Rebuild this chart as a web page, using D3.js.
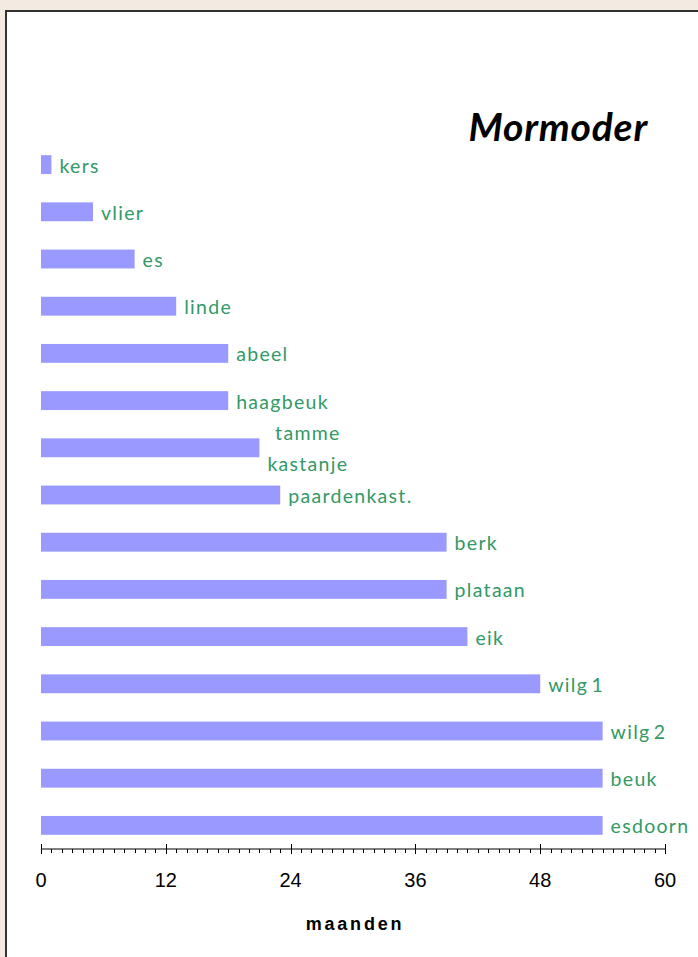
<!DOCTYPE html>
<html>
<head>
<meta charset="utf-8">
<script src="https://cdn.jsdelivr.net/npm/d3@7"></script>
<style>
  html, body { margin: 0; padding: 0; background: #f3ebe1; overflow: hidden; }
</style>
</head>
<body>
<div id="chart-area"></div>
<script>
// data, top to bottom
const trees = ["kers", "vlier", "es", "linde", "abeel", "haagbeuk", "tamme kastanje",
  "paardenkast.", "berk", "plataan", "eik", "wilg 1", "wilg 2", "beuk", "esdoorn"];
const months = [1, 5, 9, 13, 18, 18, 21, 23, 39, 39, 41, 48, 54, 54, 54];
const tickValues = [0, 12, 24, 36, 48, 60];
const titleText = "Mormoder";
const axisTitle = "maanden";

const W = 698, H = 957;
const plotLeft = 41, plotRight = 665, plotTop = 141, plotBottom = 849;

const svg = d3.select("#chart-area").append("svg")
  .attr("width", W)
  .attr("height", H);

// white panel with dark border
svg.append("rect")
  .attr("x", 6).attr("y", 11)
  .attr("width", W + 20).attr("height", H + 20)
  .attr("fill", "white")
  .attr("stroke", "#333")
  .attr("stroke-width", 2);

const x = d3.scaleLinear().domain([0, 60]).range([plotLeft, plotRight]);
const y = d3.scaleBand().domain(trees).range([plotTop, plotBottom])
  .paddingInner(0.6).paddingOuter(0.3);

const data = trees.map((t, i) => ({name: t, value: months[i]}));

svg.append("g").selectAll("rect")
  .data(data)
  .join("rect")
  .attr("x", x(0))
  .attr("y", d => y(d.name))
  .attr("width", d => x(d.value) - x(0))
  .attr("height", y.bandwidth())
  .attr("fill", "#9999ff");

// labels at bar ends
const labels = svg.append("g")
  .attr("font-family", "Lato, 'Open Sans', sans-serif")
  .attr("font-size", "19.5px")
  .attr("letter-spacing", "1.3px")
  .attr("fill", "#339966");

data.forEach(d => {
  const cy = y(d.name) + y.bandwidth() / 2;
  const words = d.name.split(" ");
  if (words.length > 1 && !/\d/.test(d.name)) {
    // two-line label, lines centred on each other
    const t = labels.append("text")
      .attr("text-anchor", "middle");
    words.forEach((w, i) => {
      t.append("tspan").attr("y", cy + 8 + (i - 0.5) * 31).text(w);
    });
    let maxW = 0;
    t.selectAll("tspan").each(function () { maxW = Math.max(maxW, this.getComputedTextLength()); });
    t.selectAll("tspan").attr("x", x(d.value) + 8 + maxW / 2);
  } else {
    labels.append("text")
      .attr("x", x(d.value) + 8)
      .attr("y", cy + 8)
      .attr("word-spacing", "-3px")
      .text(d.name);
  }
});

// x axis
const axisG = svg.append("g").attr("transform", `translate(0,${plotBottom})`);
axisG.append("line")
  .attr("x1", x(0)).attr("x2", x(60))
  .attr("stroke", "#000").attr("stroke-width", 1);
axisG.selectAll("line.minor")
  .data(d3.range(0, 61).filter(v => v % 12 !== 0))
  .join("line")
  .attr("class", "minor")
  .attr("x1", d => Math.round(x(d)) + 0.5).attr("x2", d => Math.round(x(d)) + 0.5)
  .attr("y1", 0).attr("y2", 4)
  .attr("stroke", "#000");
axisG.selectAll("line.major")
  .data(tickValues)
  .join("line")
  .attr("class", "major")
  .attr("x1", d => Math.round(x(d)) + 0.5).attr("x2", d => Math.round(x(d)) + 0.5)
  .attr("y1", -5).attr("y2", 5)
  .attr("stroke", "#000");
axisG.selectAll("text")
  .data(tickValues)
  .join("text")
  .attr("x", d => x(d))
  .attr("y", 38)
  .attr("text-anchor", "middle")
  .attr("font-family", "'Liberation Sans Narrow', 'Liberation Sans', Arial, sans-serif")
  .attr("font-size", "20px")
  .attr("fill", "#000")
  .text(d => d);

svg.append("text")
  .attr("x", (x(0) + x(60)) / 2 + 2)
  .attr("y", 930)
  .attr("text-anchor", "middle")
  .attr("font-family", "'Liberation Sans', Arial, sans-serif")
  .attr("font-size", "18px")
  .attr("font-weight", "bold")
  .attr("letter-spacing", "2.8px")
  .attr("fill", "#000")
  .text(axisTitle);

// title
svg.append("text")
  .attr("x", 648)
  .attr("y", 141)
  .attr("text-anchor", "end")
  .attr("font-family", "Lato, 'Open Sans', sans-serif")
  .attr("font-size", "39px")
  .attr("font-weight", "bold")
  .attr("font-style", "italic")
  .attr("letter-spacing", "0.8px")
  .attr("fill", "#000")
  .text(titleText);
</script>
</body>
</html>
